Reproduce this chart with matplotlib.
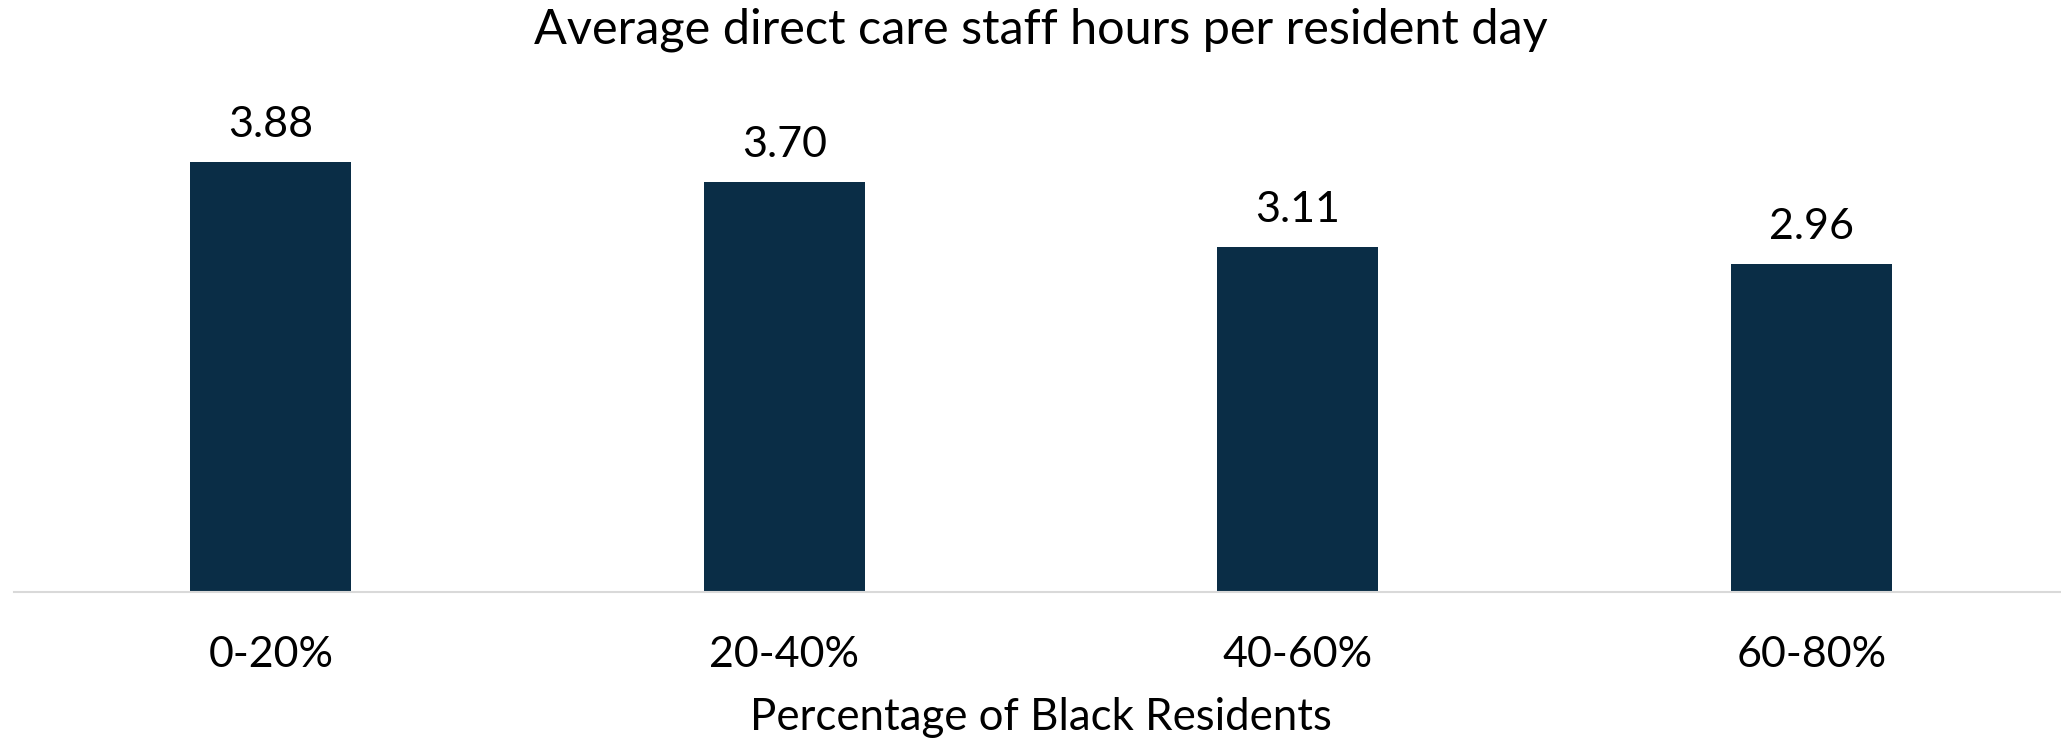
import matplotlib
matplotlib.use("Agg")
import matplotlib.pyplot as plt

categories = ["0-20%", "20-40%", "40-60%", "60-80%"]
values = [3.88, 3.70, 3.11, 2.96]
value_labels = ["3.88", "3.70", "3.11", "2.96"]
title = "Average direct care staff hours per resident day"
xlabel = "Percentage of Black Residents"

plt.rcParams['font.family'] = ['Lato', 'DejaVu Sans']

W, H = 2061, 743
fig = plt.figure(figsize=(W / 100, H / 100), dpi=100)
left_px, right_px, bottom_px, top_px = 14, 2068, 592, 92
ax = fig.add_axes([left_px / W, (H - bottom_px) / H, (right_px - left_px) / W, (bottom_px - top_px) / H])

x = list(range(len(categories)))
ax.bar(x, values, width=0.313, color="#0A2D46", zorder=2)
ax.set_xlim(-0.5, len(categories) - 0.5)
ax.set_ylim(0, 500 / 110.8)

for xi, v, lab in zip(x, values, value_labels):
    ax.annotate(lab, (xi, v), xytext=(0, 18), textcoords="offset points",
                ha="center", va="baseline", fontsize=31, color="black")

for s in ["top", "right", "left"]:
    ax.spines[s].set_visible(False)
ax.spines["bottom"].set_color("#D9D9D9")
ax.spines["bottom"].set_linewidth(1.5)
ax.set_yticks([])
ax.set_xticks(x)
ax.set_xticklabels(categories, fontsize=31)
ax.tick_params(axis="x", length=0, pad=32)
ax.set_xlabel(xlabel, fontsize=31.5, labelpad=16)

fig.text(1041 / W, 1 - 30 / H, title, ha="center", va="center", fontsize=35)

fig.savefig("out.png", dpi=100, facecolor="white")
